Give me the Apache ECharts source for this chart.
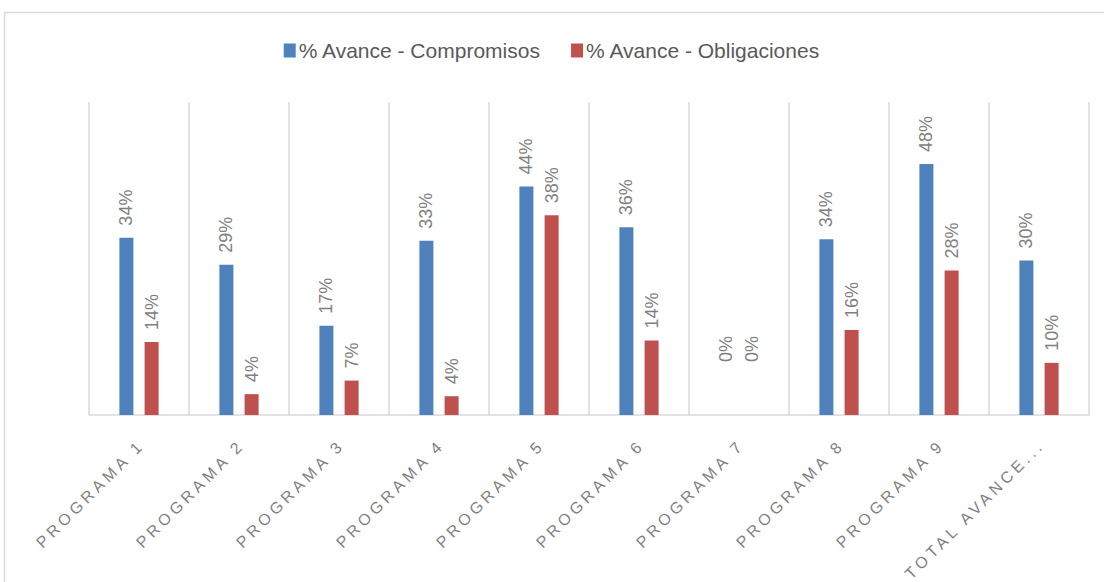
<!DOCTYPE html>
<html>
<head>
<meta charset="utf-8">
<script src="https://cdn.jsdelivr.net/npm/echarts@6/dist/echarts.min.js"></script>
<style>
html,body{margin:0;padding:0;background:#fff;}
#chart{width:1104px;height:582px;}
</style>
</head>
<body>
<div id="chart"></div>
<script>
const categories = ["PROGRAMA 1","PROGRAMA 2","PROGRAMA 3","PROGRAMA 4","PROGRAMA 5","PROGRAMA 6","PROGRAMA 7","PROGRAMA 8","PROGRAMA 9","TOTAL AVANCE..."];
const compromisos = [34.0, 28.8, 17.1, 33.4, 43.8, 36.0, 0, 33.7, 48.1, 29.6];
const obligaciones = [14.0, 4.0, 6.6, 3.6, 38.3, 14.3, 0, 16.3, 27.7, 10.0];
const seriesNames = ["% Avance - Compromisos", "% Avance - Obligaciones"];

const chart = echarts.init(document.getElementById('chart'), null, {renderer: 'svg'});
const labelStyle = {
  show: true,
  position: 'top',
  rotate: 90,
  align: 'left',
  verticalAlign: 'middle',
  distance: 12,
  color: '#7f7f7f',
  fontSize: 18,
  fontFamily: 'Liberation Sans',
  formatter: p => Math.round(p.value) + '%'
};
function build(arr) {
  return arr.map(v => v === 0 ? {value: v, label: {distance: 53}} : v);
}
chart.setOption({
  animation: false,
  backgroundColor: '#fff',
  graphic: [{
    type: 'rect',
    shape: {x: 4.5, y: 12.5, width: 1120, height: 600},
    style: {fill: 'none', stroke: '#d9d9d9', lineWidth: 1.5},
    silent: true
  }],
  legend: {
    top: 35,
    left: 'center',
    itemWidth: 12,
    itemHeight: 14,
    itemGap: 30,
    icon: 'rect',
    textStyle: {color: '#595959', fontSize: 21, fontFamily: 'Liberation Sans', padding: [0, 0, 0, -2]},
    data: seriesNames
  },
  grid: {left: 89, right: 15, top: 102, bottom: 167, containLabel: false},
  xAxis: {
    type: 'category',
    data: categories,
    boundaryGap: true,
    axisLine: {show: true, lineStyle: {color: '#d9d9d9', width: 1.5}},
    axisTick: {show: false},
    splitLine: {show: true, interval: 0, lineStyle: {color: '#d9d9d9', width: 1.5}},
    axisLabel: {
      interval: 0,
      rotate: 45,
      margin: 30,
      color: '#7f7f7f',
      fontSize: 16,
      fontFamily: 'Liberation Sans'
    }
  },
  yAxis: {
    type: 'value',
    min: 0,
    max: 60,
    show: false,
    splitLine: {show: false}
  },
  series: [
    {
      name: seriesNames[0],
      type: 'bar',
      data: build(compromisos),
      barWidth: 14,
      barGap: '80%',
      itemStyle: {color: '#4f81bd'},
      label: labelStyle
    },
    {
      name: seriesNames[1],
      type: 'bar',
      data: build(obligaciones),
      barWidth: 14,
      itemStyle: {color: '#c0504d'},
      label: labelStyle
    }
  ]
});

// Spaced-out category labels, as in the original
function spaceAxisLabels() {
  const texts = document.querySelectorAll('#chart svg text');
  texts.forEach(t => {
    if (categories.indexOf(t.textContent) >= 0) {
      t.setAttribute('letter-spacing', '4px');
      t.setAttribute('dx', '4');
    }
  });
}
spaceAxisLabels();
chart.on('finished', spaceAxisLabels);
setTimeout(spaceAxisLabels, 50);
</script>
</body>
</html>
